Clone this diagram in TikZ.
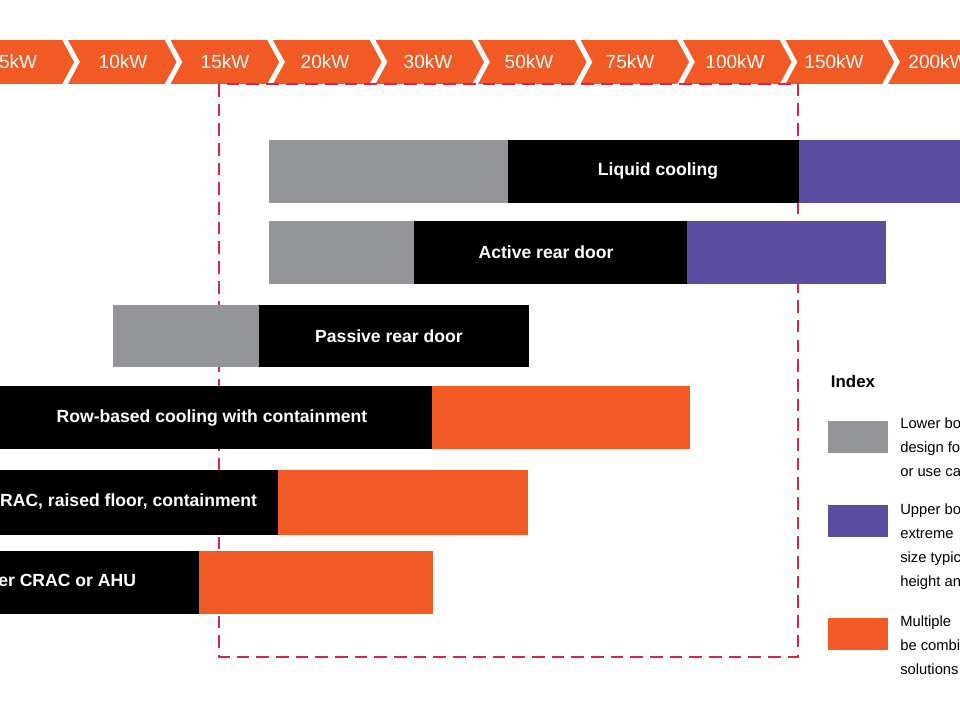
\documentclass[tikz,border=0pt]{standalone}
\usepackage{fontspec}
\setmainfont{Liberation Sans}
\usetikzlibrary{positioning}
\definecolor{kwOrange}{HTML}{F15A24}
\definecolor{barGray}{HTML}{939598}
\definecolor{barPurple}{HTML}{5B4DA0}
\definecolor{frameRed}{HTML}{D7264A}
\tikzset{
  seg/.style={draw=none,inner sep=0pt},
  barText/.style={text=white,font=\fontsize{12.5}{14}\selectfont\bfseries},
  kwText/.style={text=white,font=\fontsize{13.5}{15}\selectfont},
  keyText/.style={anchor=north west,align=left,font=\fontsize{10.5}{17}\selectfont,inner sep=0pt},
}
\begin{document}
\begin{tikzpicture}[x=0.025cm,y=-0.025cm]
\useasboundingbox (0,0) rectangle (960,720);
\clip (0,0) rectangle (960,720);

% -------- kW scale -----------
\fill[kwOrange] (-10,40) rectangle (970,84);
\foreach \b in {64,166.5,269,371.5,474,576.5,679,781.5,884}
  \draw[white,line width=3.5] (\b,38) -- (\b+13,62) -- (\b,86);
\node[kwText] (k5)   at (18,62)  {5kW};
\node[kwText] (k10)  at (123,62) {10kW};
\node[kwText] (k15)  at (225,62) {15kW};
\node[kwText] (k20)  at (325,62) {20kW};
\node[kwText] (k30)  at (428,62) {30kW};
\node[kwText] (k50)  at (529,62) {50kW};
\node[kwText] (k75)  at (630,62) {75kW};
\node[kwText] (k100) at (735,62) {100kW};
\node[kwText] (k150) at (834,62) {150kW};
\node[kwText] (k200) at (938,62) {200kW};

% -------- frame -----------
\draw[frameRed,line width=1.2,dash pattern=on 9pt off 5pt] (219,84) rectangle (798,657);

% -------- bars -----------
\fill[barGray]   (269,140) rectangle (508,203);
\fill[black]     (508,140) rectangle (799,203);
\fill[barPurple] (799,140) rectangle (970,203);
\node[barText] (liquid) at (658,171) {Liquid cooling};

\fill[barGray]   (269,221) rectangle (414,284);
\fill[black]     (414,221) rectangle (687,284);
\fill[barPurple] (687,221) rectangle (886,284);
\node[barText] (active) at (546,252) {Active rear door};

\fill[barGray]   (113,305) rectangle (259,367);
\fill[black]     (259,305) rectangle (529,367);
\node[barText] (passive) at (389,336) {Passive rear door};

\fill[black]      (-10,386) rectangle (432,449);
\fill[kwOrange]   (432,386) rectangle (690,449);
\node[barText] (row) at (212,418) {Row-based cooling with containment};

\fill[black]      (-10,470) rectangle (278,535);
\fill[kwOrange]   (278,470) rectangle (528,535);
\node[barText,anchor=east] (crac) at (262,501) {CRAC, raised floor, containment};

\fill[black]      (-10,551) rectangle (199,614);
\fill[kwOrange]   (199,551) rectangle (433,614);
\node[barText,anchor=east] (ahu) at (141,580) {Perimeter CRAC or AHU};

% -------- index -----------
\node[anchor=west,font=\fontsize{12}{14}\selectfont\bfseries] (index) at (826,381) {Index};
\fill[barGray]   (828,421) rectangle (888,453);
\fill[barPurple] (828,505) rectangle (888,537);
\fill[kwOrange]  (828,618) rectangle (888,650);
\node[keyText] (lower) at (900,418) {Lower bound\\design for\\or use case};
\node[keyText] (upper) at (900,504) {Upper bound\\extreme\\size typical\\height and};
\node[keyText] (multi) at (900,616) {Multiple\\be combined\\solutions};
\end{tikzpicture}
\end{document}
